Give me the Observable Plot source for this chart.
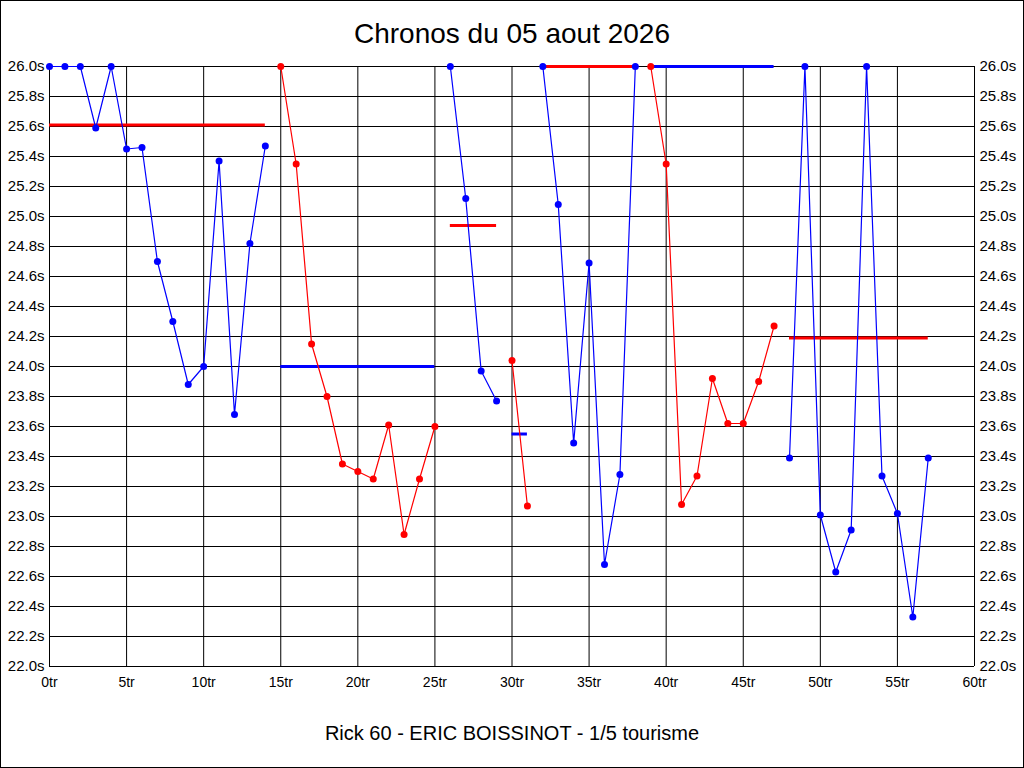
<!DOCTYPE html>
<html>
<head>
<meta charset="utf-8">
<script src="https://cdn.jsdelivr.net/npm/d3@7"></script>
<script src="https://cdn.jsdelivr.net/npm/@observablehq/plot@0.6"></script>
<style>
  html, body { margin: 0; padding: 0; background: #fff; }
  #wrap { position: relative; width: 1024px; height: 768px; overflow: hidden; background: #fff; font-family: "Liberation Sans", Arial, sans-serif; }
  #frame { position: absolute; left: 0; top: 0; width: 1024px; height: 768px; border: 1px solid #000; box-sizing: border-box; pointer-events: none; z-index: 5; }
  #title { position: absolute; left: 0; top: 0; width: 1024px; height: 56px; text-align: center; font-size: 28px; line-height: 28px; padding-top: 20px; box-sizing: border-box; color: #000; }
  #chart { position: absolute; left: 0; top: 56px; width: 1024px; height: 640px; }
  #caption { position: absolute; left: 0; top: 696px; width: 1024px; height: 72px; text-align: center; font-size: 20px; line-height: 20px; padding-top: 27px; box-sizing: border-box; color: #000; }
</style>
</head>
<body>
<div id="wrap">
  <div id="frame"></div>
  <div id="title">Chronos du 05 aout 2026</div>
  <div id="chart"></div>
  <div id="caption">Rick 60 - ERIC BOISSINOT - 1/5 tourisme</div>
</div>
<script>
// Chrono par tour (secondes)
const chronos = [
  26.00, 26.00, 26.00, 25.59, 26.00, 25.45, 25.46, 24.70, 24.30, 23.88, 24.00, 25.37, 23.68, 24.82, 25.47,
  26.00, 25.35, 24.15, 23.80, 23.35, 23.30, 23.25, 23.61, 22.88, 23.25, 23.60,
  26.00, 25.12, 23.97, 23.77,
  24.04, 23.07,
  26.00, 25.08, 23.49, 24.69, 22.68, 23.28, 26.00,
  26.00, 25.35, 23.08, 23.27, 23.92, 23.62, 23.62, 23.90, 24.27,
  23.39, 26.00, 23.01, 22.63, 22.91, 26.00, 23.27, 23.02, 22.33, 23.39
];
// Séries (relais)
const segStart = [0, 15, 26, 30, 32, 39, 48];
const segEnd   = [14, 25, 29, 31, 38, 47, 57];
const segColor = ["#0000ff", "#ff0000", "#0000ff", "#ff0000", "#0000ff", "#ff0000", "#0000ff"];
const segRef   = [25.61, 24.00, 24.94, 23.55, 26.00, 26.00, 24.19];
const refColor = ["#ff0000", "#0000ff", "#ff0000", "#0000ff", "#ff0000", "#0000ff", "#ff0000"];
// Graduations
const xTicks = [0, 5, 10, 15, 20, 25, 30, 35, 40, 45, 50, 55, 60];
const yTicks = [22.0, 22.2, 22.4, 22.6, 22.8, 23.0, 23.2, 23.4, 23.6, 23.8, 24.0, 24.2, 24.4, 24.6, 24.8, 25.0, 25.2, 25.4, 25.6, 25.8, 26.0];

const points = chronos.map((v, i) => {
  const s = segStart.findIndex((st, k) => i >= st && i <= segEnd[k]);
  return {tour: i, chrono: v, seg: s, color: segColor[s]};
});
const refs = segStart.map((st, k) => ({x1: st, x2: segEnd[k], y: segRef[k], color: refColor[k]}));

const yFmt = d => d.toFixed(1) + "s";

const chart = Plot.plot({
  width: 1024,
  height: 640,
  marginTop: 10,
  marginBottom: 30,
  marginLeft: 49,
  marginRight: 50,
  x: {domain: [0, 60]},
  y: {domain: [22, 26]},
  color: {type: "identity"},
  style: {fontFamily: "'Liberation Sans', Arial, sans-serif", color: "#000", background: "#fff", overflow: "visible"},
  marks: [
    Plot.ruleY(yTicks, {stroke: "#000", strokeWidth: 1, strokeOpacity: 1}),
    Plot.ruleX(xTicks, {stroke: "#000", strokeWidth: 1, strokeOpacity: 1}),
    Plot.axisY({ticks: yTicks, anchor: "left", tickSize: 0, tickPadding: 5, tickFormat: yFmt, fontSize: 15, label: null}),
    Plot.axisY({ticks: yTicks, anchor: "right", tickSize: 0, tickPadding: 5, tickFormat: yFmt, fontSize: 15, label: null}),
    Plot.axisX({ticks: xTicks, anchor: "bottom", tickSize: 0, tickPadding: 11, tickFormat: d => d + "tr", fontSize: 14, label: null}),
    Plot.ruleY(refs, {y: "y", x1: "x1", x2: "x2", stroke: "color", strokeWidth: 3}),
    Plot.line(points, {x: "tour", y: "chrono", z: "seg", stroke: "color", strokeWidth: 1.2, curve: "linear"}),
    Plot.dot(points, {x: "tour", y: "chrono", fill: "color", r: 3.5, stroke: "none"})
  ]
});
document.getElementById("chart").appendChild(chart);
</script>
</body>
</html>
